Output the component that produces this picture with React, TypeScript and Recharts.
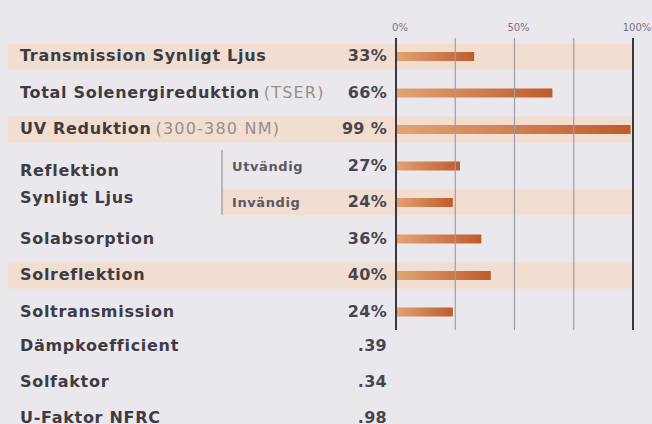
import { BarChart, Bar, XAxis, YAxis, ReferenceLine } from "recharts";

const categories = [
  "Transmission Synligt Ljus",
  "Total Solenergireduktion",
  "UV Reduktion",
  "Utvändig",
  "Invändig",
  "Solabsorption",
  "Solreflektion",
  "Soltransmission",
];
const notes = ["", "(TSER)", "(300-380 NM)", "", "", "", "", ""];
const values = [33, 66, 99, 27, 24, 36, 40, 24];
const valueLabels = ["33%", "66%", "99 %", "27%", "24%", "36%", "40%", "24%"];
const shaded = [true, false, true, false, true, false, true, false];
const groupLines = ["Reflektion", "Synligt Ljus"];
const groupRows = [3, 4];
const extraLabels = ["Dämpkoefficient", "Solfaktor", "U-Faktor NFRC"];
const extraValues = [".39", ".34", ".98"];
const gridTicks = [0, 25, 50, 75, 100];
const tickLabels = [0, 50, 100];

const data = categories.map((name, i) => ({ name, value: values[i] }));

const FONT = "'DejaVu Sans', sans-serif";
const TEXT = "#3d3b44";
const NOTE = "#9b8c8e";
const BAND = "#f3dccb";
const GROUP_X = 222;

function RowLabel(props: any) {
  const { y, index } = props;
  const i = index as number;
  const isSub = groupRows.includes(i);
  return (
    <g fontFamily={FONT}>
      {isSub ? (
        <text x={232} y={y + 5} fontSize={13} fontWeight={700} fill="#5c5863" letterSpacing={0.6}>
          {categories[i]}
        </text>
      ) : (
        <text x={20} y={y + 5} fontSize={16} fontWeight={700} fill={TEXT} letterSpacing={0.7}>
          {categories[i]}
          {notes[i] && (
            <tspan fontWeight={400} fill={NOTE} dx={4} letterSpacing={1.2}>
              {notes[i]}
            </tspan>
          )}
        </text>
      )}
      {i === groupRows[0] && (
        <g>
          <text x={20} y={y + 10} fontSize={16} fontWeight={700} fill={TEXT} letterSpacing={0.7}>
            {groupLines[0]}
          </text>
          <text x={20} y={y + 37} fontSize={16} fontWeight={700} fill={TEXT} letterSpacing={0.7}>
            {groupLines[1]}
          </text>
          <line x1={GROUP_X} x2={GROUP_X} y1={y - 16} y2={y + 49} stroke="#8a8690" strokeWidth={1} />
        </g>
      )}
      <text x={387} y={y + 5} fontSize={16} fontWeight={700} fill="#48454e" textAnchor="end" letterSpacing={0.3}>
        {valueLabels[i]}
      </text>
    </g>
  );
}

function RowBand(props: any) {
  const { y, height, width, x, index } = props;
  if (!shaded[index]) return <g />;
  const start = groupRows.includes(index) ? GROUP_X : 8;
  const h = 26;
  return (
    <rect
      x={start}
      y={y + (height - h) / 2}
      width={x + width - start}
      height={h}
      fill={BAND}
      fillOpacity={0.85}
    />
  );
}

function TopTick(props: any) {
  const { x, payload } = props;
  return (
    <text x={x + 4} y={31} fontSize={10} fill="#77737c" fontFamily={FONT} textAnchor="middle">
      {payload.value}%
    </text>
  );
}

export default function App() {
  return (
    <div
      style={{
        position: "absolute",
        left: 0,
        top: 0,
        width: 652,
        height: 424,
        background: "#ebe8ed",
        overflow: "hidden",
      }}
    >
      <BarChart
        width={652}
        height={424}
        data={data}
        layout="vertical"
        margin={{ top: 8, right: 19, left: 0, bottom: 94 }}
      >
        <defs>
          <linearGradient id="barFill" x1="0" y1="0" x2="1" y2="0">
            <stop offset="0%" stopColor="#e2a475" />
            <stop offset="100%" stopColor="#be5c2c" />
          </linearGradient>
        </defs>
        <XAxis
          type="number"
          orientation="top"
          domain={[0, 100]}
          ticks={tickLabels}
          height={30}
          axisLine={false}
          tickLine={false}
          tick={<TopTick />}
        />
        <YAxis
          type="category"
          dataKey="name"
          width={396}
          axisLine={false}
          tickLine={false}
          interval={0}
          tick={<RowLabel />}
        />
        <Bar
          dataKey="value"
          barSize={9}
          fill="url(#barFill)"
          background={<RowBand />}
          isAnimationActive={false}
        />
        {gridTicks.map((v) => (
          <ReferenceLine
            key={v}
            x={v}
            stroke={v === 0 || v === 100 ? "#3a3840" : "#a09ca6"}
            strokeWidth={v === 0 || v === 100 ? 2 : 1.2}
          />
        ))}
      </BarChart>
      <svg
        width={652}
        height={110}
        style={{ position: "absolute", left: 0, top: 328 }}
        fontFamily={FONT}
      >
        {extraLabels.map((label, i) => (
          <g key={label}>
            <text x={20} y={23 + i * 36} fontSize={16} fontWeight={700} fill={TEXT} letterSpacing={0.7}>
              {label}
            </text>
            <text x={387} y={23 + i * 36} fontSize={16} fontWeight={700} fill="#48454e" textAnchor="end" letterSpacing={0.3}>
              {extraValues[i]}
            </text>
          </g>
        ))}
      </svg>
    </div>
  );
}
